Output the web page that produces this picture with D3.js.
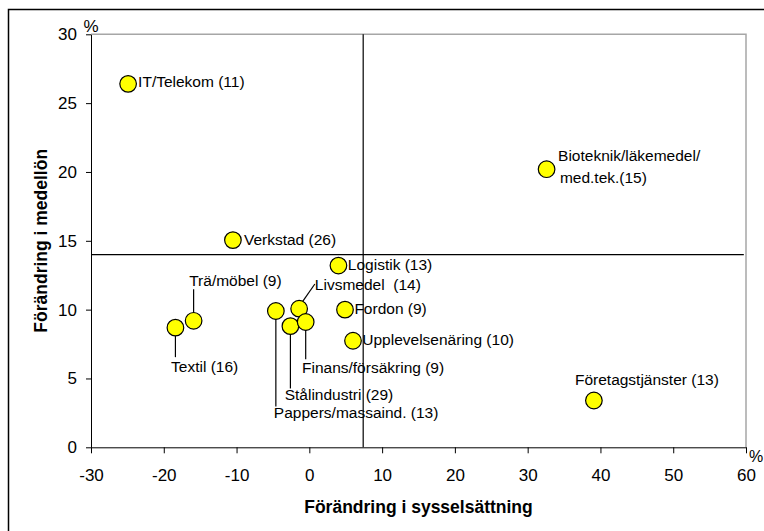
<!DOCTYPE html>
<html>
<head>
<meta charset="utf-8">
<script src="https://cdn.jsdelivr.net/npm/d3@7"></script>
<style>
html,body{margin:0;padding:0;background:#fff;}
svg{display:block;font-family:"Liberation Sans",Arial,sans-serif;}
</style>
</head>
<body>
<svg id="chart" width="764" height="531"></svg>
<script>
// ---- data ----
const sectors = ["IT/Telekom (11)","Bioteknik/läkemedel/|med.tek.(15)","Verkstad (26)","Logistik (13)","Livsmedel  (14)","Fordon (9)","Upplevelsenäring (10)","Trä/möbel (9)","Textil (16)","Pappers/massaind. (13)","Stålindustri (29)","Finans/försäkring (9)","Företagstjänster (13)"];
const employmentChange = [-24.9, 32.6, -10.5, 4.0, -1.4, 4.9, 6.0, -15.9, -18.4, -4.6, -2.6, -0.5, 39.1];
const wageChange       = [26.4, 20.2, 15.05, 13.2, 10.07, 10.0, 7.74, 9.19, 8.69, 9.9, 8.8, 9.1, 3.4];
const xTicks = [-30,-20,-10,0,10,20,30,40,50,60];
const yTicks = [0,5,10,15,20,25,30];
const refX = 7.4;   // vertical reference line (employment)
const refY = 14;    // horizontal reference line (wage)

// ---- label layout (pixel offsets relative to point) ----
const labelLayout = [
  {dx:10, dy:3.5, anchor:"start"},
  {dx:11.5, dy:-7.8, anchor:"start", dx2:13.3, dy2:13.5},
  {dx:11, dy:4.5, anchor:"start"},
  {dx:9.4, dy:4.6, anchor:"start"},
  {dx:15.7, dy:-19, anchor:"start", leader:[[3.4,-7],[15.7,-24.7]]},
  {dx:9.4, dy:4.6, anchor:"start"},
  {dx:9.3, dy:4.6, anchor:"start"},
  {dx:-4.4, dy:-34.5, anchor:"start", leader:[[0,-8],[0,-31.5]]},
  {dx:-4.4, dy:44.5, anchor:"start", leader:[[0,8],[0,29.5]]},
  {dx:-2, dy:107, anchor:"start", leader:[[0,8],[0,95.5]]},
  {dx:-5.7, dy:73.5, anchor:"start", leader:[[0,8],[0,62.3]]},
  {dx:-3.7, dy:50.8, anchor:"start", leader:[[0,8],[0,37.3]]},
  {dx:53, dy:-15, anchor:"middle"}
];

const svg = d3.select("#chart");
const m = {left:91, right:746, top:34.3, bottom:447.3};

const x = d3.scaleLinear().domain([-30,60]).range([m.left, m.right]);
const y = d3.scaleLinear().domain([0,30]).range([m.bottom, m.top]);

// outer frame
svg.append("rect").attr("x",8.5).attr("y",9.5).attr("width",800).attr("height",600)
  .attr("fill","none").attr("stroke","#000").attr("stroke-width",1.5);

// plot border (gray)
svg.append("path")
  .attr("d",`M${m.left},${m.top}H${m.right}V${m.bottom}`)
  .attr("fill","none").attr("stroke","#a6a6a6").attr("stroke-width",1.5);

// axes
const xAxis = svg.append("g").attr("transform",`translate(0,${m.bottom})`)
  .call(d3.axisBottom(x).tickValues(xTicks).tickSize(6).tickSizeOuter(0).tickPadding(16).tickFormat(d3.format("d")));
const yAxis = svg.append("g").attr("transform",`translate(${m.left},0)`)
  .call(d3.axisLeft(y).tickValues(yTicks).tickSize(5).tickSizeOuter(0).tickPadding(9).tickFormat(d3.format("d")));
[xAxis,yAxis].forEach(a=>{
  a.selectAll("text").attr("font-size","17px").attr("fill","#000").attr("font-family","Liberation Sans, Arial, sans-serif");
  a.selectAll("line").attr("stroke","#000");
  a.select(".domain").attr("stroke","#000");
});
xAxis.selectAll("text").text(d=>d<0?"-"+Math.abs(d):d);

// reference lines
svg.append("line").attr("x1",x(-30)).attr("x2",x(59.7)).attr("y1",y(refY)).attr("y2",y(refY))
  .attr("stroke","#000").attr("stroke-width",1.2);
svg.append("line").attr("x1",x(refX)).attr("x2",x(refX)).attr("y1",y(30)).attr("y2",y(0))
  .attr("stroke","#000").attr("stroke-width",1.2);

// leader lines
sectors.forEach((s,i)=>{
  const L = labelLayout[i];
  if(!L.leader) return;
  const cx = x(employmentChange[i]), cy = y(wageChange[i]);
  svg.append("line")
    .attr("x1",cx+L.leader[0][0]).attr("y1",cy+L.leader[0][1])
    .attr("x2",cx+L.leader[1][0]).attr("y2",cy+L.leader[1][1])
    .attr("stroke","#000").attr("stroke-width",1.2);
});

// points
svg.append("g").selectAll("circle").data(sectors).join("circle")
  .attr("cx",(d,i)=>x(employmentChange[i]))
  .attr("cy",(d,i)=>y(wageChange[i]))
  .attr("r",8.3)
  .attr("fill","#ffff00").attr("stroke","#000").attr("stroke-width",1.2);

// labels
sectors.forEach((s,i)=>{
  const L = labelLayout[i];
  const cx = x(employmentChange[i]), cy = y(wageChange[i]);
  const parts = s.split("|");
  svg.append("text").attr("x",cx+L.dx).attr("y",cy+L.dy)
    .attr("text-anchor",L.anchor).attr("font-size","15.5px").attr("fill","#000")
    .style("white-space","pre").text(parts[0]);
  if(parts[1]){
    svg.append("text").attr("x",cx+L.dx2).attr("y",cy+L.dy2)
      .attr("text-anchor",L.anchor).attr("font-size","15.5px").attr("fill","#000")
      .style("white-space","pre").text(parts[1]);
  }
});

// percent signs
svg.append("text").attr("x",m.left).attr("y",32).attr("text-anchor","middle")
  .attr("font-size","17px").text("%");
svg.append("text").attr("x",749).attr("y",462).attr("text-anchor","start")
  .attr("font-size","16px").text("%");

// axis titles
svg.append("text").attr("x",(m.left+m.right)/2).attr("y",513).attr("text-anchor","middle")
  .attr("font-size","17.5px").attr("font-weight","bold").text("Förändring i sysselsättning");
svg.append("text").attr("transform",`translate(47,${(m.top+m.bottom)/2}) rotate(-90)`)
  .attr("text-anchor","middle").attr("font-size","17.5px").attr("font-weight","bold")
  .text("Förändring i medellön");
</script>
</body>
</html>
